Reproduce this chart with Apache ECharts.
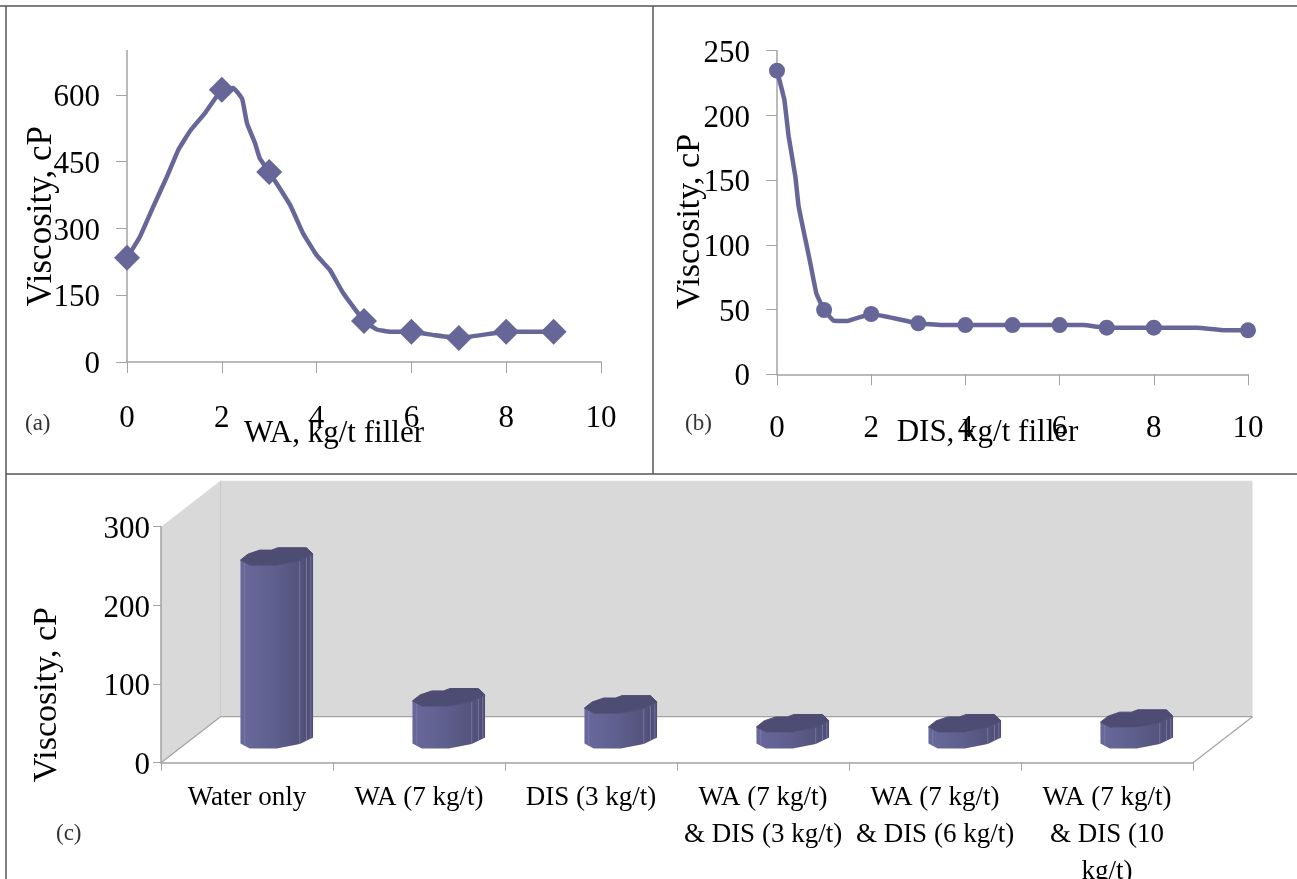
<!DOCTYPE html>
<html>
<head>
<meta charset="utf-8">
<style>html,body{margin:0;padding:0;background:#fff}#c{width:1297px;height:879px}</style>
<script src="https://cdn.jsdelivr.net/npm/echarts@6/dist/echarts.min.js"></script>
</head>
<body>
<div id="c"></div>
<script>
// ---- data ----
const waCurveX = [0,0.27,0.55,0.84,1.08,1.33,1.65,2,2.24,2.43,2.53,2.7,2.8,3,3.44,3.71,4,4.28,4.56,5,5.27,5.55,6,6.5,7,8,9];
const waCurveY = [234,281,348,416,476,519,560,612,616,591,537,492,458,427,353,290,240,207,155,92,73,68,68,60,54,68,68];
const waMarkX = [0,2,3,5,6,7,8,9];
const waMarkY = [234,612,427,92,68,54,68,68];

const disCurveX = [0,0.156,0.248,0.39,0.46,0.708,0.835,1,1.2,1.49,2,3,3.5,4,5,6,6.5,7,8,8.92,9.51,10];
const disCurveY = [234.6,212,183.6,152.7,129.5,85.8,62.6,49.7,41.5,41.2,46.6,39.4,38,38,38,38,38,36,36,36,34,34];
const disMarkX = [0,1,2,3,4,5,6,7,8,10];
const disMarkY = [234.6,49.7,46.6,39.4,38,38,38,36,36,34];

const treatments = ['Water only','WA (7 kg/t)','DIS (3 kg/t)','WA (7 kg/t)\n& DIS (3 kg/t)','WA (7 kg/t)\n& DIS (6 kg/t)','WA (7 kg/t)\n& DIS (10\nkg/t)'];
const treatmentViscosity = [233,54,45,21,21,27];

const yTicksA = [0,150,300,450,600];

// ---- style ----
const FONT = '"Liberation Serif","Times New Roman",serif';
const PURPLE = '#666699';
const AXIS = '#a3a3a3';
const axisLine = {show:true,onZero:false,lineStyle:{color:AXIS,width:1.5}};
const tick = {show:true,length:11,lineStyle:{color:AXIS,width:1}};
const pairs = (xs,ys)=>xs.map((x,i)=>[x,ys[i]]);
const yLabelRich = {t:{fontSize:31,color:'#000',fontFamily:FONT,padding:[6,0,0,0]}};

// 3-D look of panel (c): wall depth and the irregular column cross-section
const DEPTH_X = 59.5, DEPTH_Y = 46;
const COL_BACK  = [[-36.3,3.7],[-28.7,-2.3],[-17,-6.3],[-5.3,-6.3],[1.3,-8.7],[29.7,-8.7],[36.3,-2.3]];
const COL_FRONT = [[-36.3,3.7],[-27,8.7],[0,8.7],[23,4.3],[36.3,-2.3]];
const FACETS = [-32,23,29.7,34];
function frontY(dx){
  for(let i=1;i<COL_FRONT.length;i++){
    const a=COL_FRONT[i-1],b=COL_FRONT[i];
    if(dx<=b[0]) return a[1]+(b[1]-a[1])*(dx-a[0])/(b[0]-a[0]);
  }
  return COL_FRONT[COL_FRONT.length-1][1];
}
function renderWalls(params,api){
  const r=params.coordSys, L=r.x, R=r.x+r.width, T=r.y, B=r.y+r.height;
  const dx=DEPTH_X, dy=DEPTH_Y;
  const line=(x1,y1,x2,y2,c)=>({type:'line',shape:{x1,y1,x2,y2},style:{stroke:c||AXIS,lineWidth:1.2}});
  return {type:'group',silent:true,children:[
    {type:'polygon',shape:{points:[[L,T],[L+dx,T-dy],[L+dx,B-dy],[L,B]]},style:{fill:'#d9d9d9'}},
    {type:'rect',shape:{x:L+dx,y:T-dy,width:r.width,height:r.height},style:{fill:'#d9d9d9'}},
    line(L+dx,T-dy,L+dx,B-dy,'#cccccc'),
    line(L,B,L+dx,B-dy),
    line(L+dx,B-dy,R+dx,B-dy),
    line(R,B,R+dx,B-dy)
  ]};
}
function renderColumn(params,api){
  const top=api.coord([api.value(0),api.value(1)]);
  const base=api.coord([api.value(0),0]);
  const cx=top[0]+DEPTH_X/2, ty=top[1]-DEPTH_Y/2, by=base[1]-DEPTH_Y/2;
  const front=COL_FRONT.map(p=>[cx+p[0],ty+p[1]]);
  const bottom=COL_FRONT.map(p=>[cx+p[0],by+p[1]]).reverse();
  const lid=COL_BACK.map(p=>[cx+p[0],ty+p[1]]).concat(COL_FRONT.slice(1,-1).reverse().map(p=>[cx+p[0],ty+p[1]]));
  const children=[
    {type:'polygon',shape:{points:front.concat(bottom)},style:{fill:{type:'linear',x:0,y:0,x2:1,y2:0,colorStops:[
      {offset:0,color:'#68689c'},{offset:0.45,color:'#5f5f8e'},{offset:0.75,color:'#55557f'},{offset:1,color:'#4d4d75'}]}}}
  ];
  FACETS.forEach(f=>children.push({type:'line',shape:{x1:cx+f,y1:ty+frontY(f),x2:cx+f,y2:by+frontY(f)},style:{stroke:'#7f7fad',lineWidth:0.8}}));
  children.push({type:'polygon',shape:{points:lid},style:{fill:'#4d4d73',stroke:'#4d4d73',lineWidth:1,lineJoin:'round'}});
  return {type:'group',children};
}

// ---- frame and panel tags ----
const frameLine=(x1,y1,x2,y2)=>({type:'line',silent:true,shape:{x1,y1,x2,y2},style:{stroke:'#555555',lineWidth:1.5},z:50});
const tag=(text,x,y)=>({type:'text',silent:true,x,y,style:{text,fill:'#333333',font:'23px '+FONT,textVerticalAlign:'middle'},z:50});

const chart=echarts.init(document.getElementById('c'),null,{renderer:'canvas'});
chart.setOption({
  animation:false,
  backgroundColor:'#ffffff',
  textStyle:{fontFamily:FONT},
  grid:[
    {left:127,top:50.5,width:474,height:311.5,outerBoundsMode:'none'},
    {left:777,top:50.7,width:471,height:323.6,outerBoundsMode:'none'},
    {left:161,top:526.7,width:1032,height:236,outerBoundsMode:'none'}
  ],
  xAxis:[
    {gridIndex:0,type:'value',min:0,max:10,interval:2,splitLine:{show:false},axisLine,axisTick:tick,
     axisLabel:{fontSize:31,color:'#000',margin:41,fontFamily:FONT,hideOverlap:false,showMinLabel:true,showMaxLabel:true},
     name:'WA, kg/t filler',nameLocation:'middle',nameGap:56,nameMoveOverlap:false,
     nameTextStyle:{fontSize:31,color:'#000',fontFamily:FONT,padding:[0,60,0,0]}},
    {gridIndex:1,type:'value',min:0,max:10,interval:2,splitLine:{show:false},axisLine,axisTick:tick,
     axisLabel:{fontSize:31,color:'#000',margin:39,fontFamily:FONT,hideOverlap:false,showMinLabel:true,showMaxLabel:true},
     name:'DIS, kg/t filler',nameLocation:'middle',nameGap:43,nameMoveOverlap:false,
     nameTextStyle:{fontSize:31,color:'#000',fontFamily:FONT,padding:[0,50,0,0]}},
    {gridIndex:2,type:'category',data:treatments,boundaryGap:true,splitLine:{show:false},
     axisLine:{show:true,onZero:false,lineStyle:{color:AXIS,width:1.5}},
     axisTick:{show:true,alignWithLabel:false,length:8,lineStyle:{color:AXIS,width:1}},
     axisLabel:{fontSize:27,lineHeight:37,color:'#000',margin:17,fontFamily:FONT,interval:0,hideOverlap:false}}
  ],
  yAxis:[
    {gridIndex:0,type:'value',min:0,max:700,interval:150,splitLine:{show:false},axisLine,
     axisTick:Object.assign({},tick,{customValues:yTicksA}),
     axisLabel:{margin:27,formatter:'{t|{value}}',rich:yLabelRich,customValues:yTicksA,hideOverlap:false},
     name:'Viscosity, cP',nameLocation:'middle',nameGap:68,nameMoveOverlap:false,
     nameTextStyle:{fontSize:35,color:'#000',fontFamily:FONT,padding:[0,20,0,0]}},
    {gridIndex:1,type:'value',min:0,max:250,interval:50,splitLine:{show:false},axisLine,axisTick:tick,
     axisLabel:{margin:27,formatter:'{t|{value}}',rich:yLabelRich,hideOverlap:false},
     name:'Viscosity, cP',nameLocation:'middle',nameGap:70,nameMoveOverlap:false,
     nameTextStyle:{fontSize:34,color:'#000',fontFamily:FONT,padding:[0,18,0,0]}},
    {gridIndex:2,type:'value',min:0,max:300,interval:100,splitLine:{show:false},
     axisLine:{show:true,onZero:false,lineStyle:{color:AXIS,width:1.5}},
     axisTick:{show:true,length:8,lineStyle:{color:AXIS,width:1}},
     axisLabel:{margin:11,formatter:'{t|{value}}',rich:yLabelRich,hideOverlap:false},
     name:'Viscosity, cP',nameLocation:'middle',nameGap:97,nameMoveOverlap:false,
     nameTextStyle:{fontSize:34,color:'#000',fontFamily:FONT,padding:[0,100,0,0]}}
  ],
  series:[
    {type:'line',name:'WA curve',xAxisIndex:0,yAxisIndex:0,data:pairs(waCurveX,waCurveY),showSymbol:false,symbol:'none',lineStyle:{color:PURPLE,width:4.5},smooth:0.1,z:2},
    {type:'scatter',name:'WA points',xAxisIndex:0,yAxisIndex:0,data:pairs(waMarkX,waMarkY),symbol:'diamond',symbolSize:[26,26],itemStyle:{color:PURPLE,opacity:1},z:3},
    {type:'line',name:'DIS curve',xAxisIndex:1,yAxisIndex:1,data:pairs(disCurveX,disCurveY),showSymbol:false,symbol:'none',lineStyle:{color:PURPLE,width:4.5},smooth:0.1,z:2},
    {type:'scatter',name:'DIS points',xAxisIndex:1,yAxisIndex:1,data:pairs(disMarkX,disMarkY),symbol:'circle',symbolSize:16,itemStyle:{color:PURPLE,opacity:1},z:3},
    {type:'custom',name:'walls',xAxisIndex:2,yAxisIndex:2,coordinateSystem:'cartesian2d',data:[[0,0]],renderItem:renderWalls,clip:false,silent:true,z:0,zlevel:0},
    {type:'custom',name:'Viscosity',xAxisIndex:2,yAxisIndex:2,coordinateSystem:'cartesian2d',
     data:treatmentViscosity.map((v,i)=>[i,v]),encode:{x:0,y:1},renderItem:renderColumn,clip:false,z:3}
  ],
  graphic:[
    frameLine(0,6,1297,6),
    frameLine(6,6,6,879),
    frameLine(653,6,653,474),
    frameLine(6,474,1297,474),
    tag('(a)',25,424),
    tag('(b)',685,424),
    tag('(c)',56,834)
  ]
});
</script>
</body>
</html>
